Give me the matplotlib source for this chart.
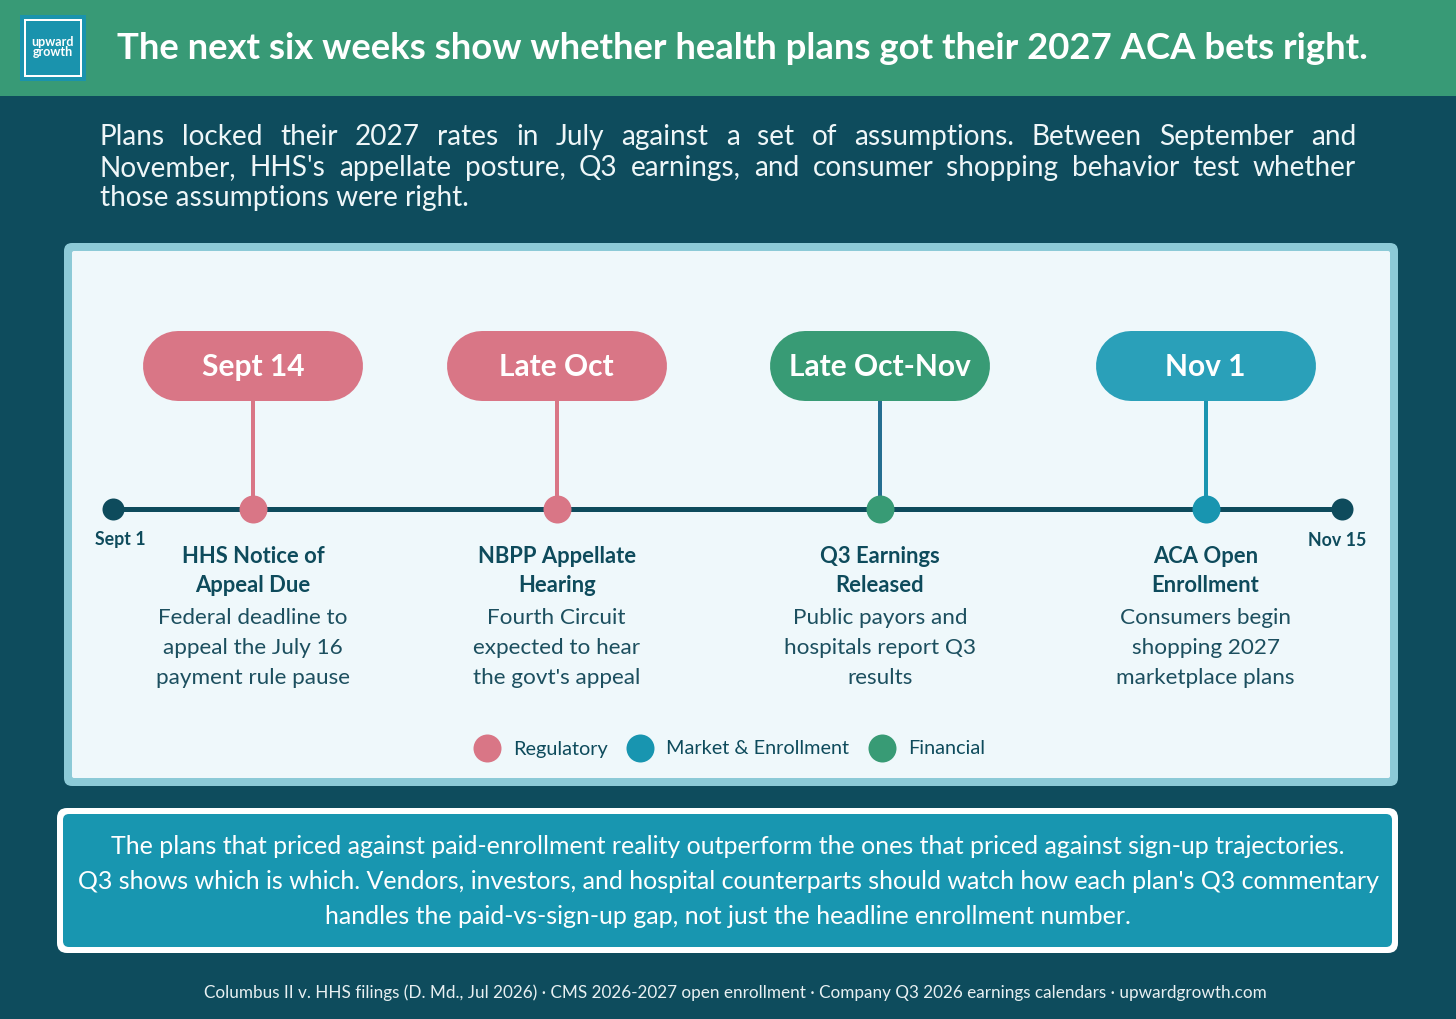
import matplotlib
matplotlib.use("Agg")
import matplotlib.pyplot as plt
from matplotlib.patches import FancyBboxPatch, Rectangle
from matplotlib.lines import Line2D

W, H = 1456, 1019
FONT = ["Lato", "DejaVu Sans"]

# ── Content ─────────────────────────────────────
title = "The next six weeks show whether health plans got their 2027 ACA bets right."
subtitle_lines = [
    "Plans locked their 2027 rates in July against a set of assumptions. Between September and",
    "November, HHS's appellate posture, Q3 earnings, and consumer shopping behavior test whether",
    "those assumptions were right.",
]
range_labels = ["Sept 1", "Nov 15"]
event_dates = ["Sept 14", "Late Oct", "Late Oct-Nov", "Nov 1"]
event_titles = ["HHS Notice of\nAppeal Due", "NBPP Appellate\nHearing",
                "Q3 Earnings\nReleased", "ACA Open\nEnrollment"]
event_desc = ["Federal deadline to\nappeal the July 16\npayment rule pause",
              "Fourth Circuit\nexpected to hear\nthe govt's appeal",
              "Public payors and\nhospitals report Q3\nresults",
              "Consumers begin\nshopping 2027\nmarketplace plans"]
event_cat = ["Regulatory", "Regulatory", "Financial", "Market & Enrollment"]
# position along the Sept 1 -> Nov 15 line (0..1)
event_pos = [0.114, 0.361, 0.624, 0.889]
legend_cats = ["Regulatory", "Market & Enrollment", "Financial"]
takeaway = [
    "The plans that priced against paid-enrollment reality outperform the ones that priced against sign-up trajectories.",
    "Q3 shows which is which. Vendors, investors, and hospital counterparts should watch how each plan's Q3 commentary",
    "handles the paid-vs-sign-up gap, not just the headline enrollment number.",
]
footer = ("Columbus II v. HHS filings (D. Md., Jul 2026) \u00b7 CMS 2026-2027 open enrollment \u00b7 "
          "Company Q3 2026 earnings calendars \u00b7 upwardgrowth.com")

# ── Palette ─────────────────────────────────────
BG = "#0e4c5d"
HEADER = "#389a76"
LOGO = "#1a93ad"
DARK = "#0e4b5c"
DESC = "#1c4f5f"
PANEL_EDGE = "#8ccad7"
PANEL = "#eff8fb"
BOX = "#1896b0"
CAT_COLORS = {"Regulatory": "#d97686", "Market & Enrollment": "#1895b0", "Financial": "#389b75"}
PILL_COLORS = {"Regulatory": "#d97686", "Market & Enrollment": "#2aa0b9", "Financial": "#389b75"}
STEM_COLORS = {"Regulatory": "#d97686", "Market & Enrollment": "#1a95b0", "Financial": "#256e91"}

PT = 72 / 100  # points per pixel at dpi 100

fig = plt.figure(figsize=(W / 100, H / 100), dpi=100)
fig.patch.set_facecolor(BG)
ax = fig.add_axes([0, 0, 1, 1])
ax.set_xlim(0, W)
ax.set_ylim(H, 0)
ax.axis("off")
r = fig.canvas.get_renderer()


def fit(t, width):
    w = t.get_window_extent(r).width
    t.set_fontsize(t.get_fontsize() * width / w)
    return t


def justify(words, x0, x1, y, **kw):
    ts = [ax.text(0, y, w, **kw) for w in words]
    widths = [t.get_window_extent(r).width for t in ts]
    gap = (x1 - x0 - sum(widths)) / max(len(words) - 1, 1)
    x = x0
    for t, w in zip(ts, widths):
        t.set_x(x)
        x += w + gap


# ── Header ──────────────────────────────────────
ax.add_patch(Rectangle((0, 0), W, 96, facecolor=HEADER, edgecolor="none"))
ax.add_patch(Rectangle((20, 15), 66, 66, facecolor=LOGO, edgecolor="none"))
ax.add_patch(Rectangle((25, 20), 56, 56, facecolor="none", edgecolor="white", lw=2 * PT))
ax.text(53, 47, "upward\ngrowth", color="white", fontsize=9, fontweight="bold",
        family=FONT, ha="center", va="center", linespacing=0.85)
t = ax.text(117, 48, title, color="white", fontsize=26, fontweight="bold",
            family=FONT, ha="left", va="center")
fit(t, 1251)

# ── Subtitle (justified) ────────────────────────
sub_kw = dict(color="#eef6f8", fontsize=20.2, family=FONT, va="center", ha="left")
for i, line in enumerate(subtitle_lines):
    y = 137 + i * 30.7
    if i < len(subtitle_lines) - 1:
        justify(line.split(" "), 100, 1356, y, **sub_kw)
    else:
        ax.text(100, y, line, **sub_kw)

# ── Timeline panel ──────────────────────────────
ax.add_patch(FancyBboxPatch((64, 243), 1334, 543, boxstyle="round,pad=0,rounding_size=8",
                            facecolor=PANEL_EDGE, edgecolor="none"))
ax.add_patch(FancyBboxPatch((72, 251), 1318, 527, boxstyle="round,pad=0,rounding_size=2",
                            facecolor=PANEL, edgecolor="none"))

tl = fig.add_axes([113 / W, 0, 1229 / W, 1])
tl.set_xlim(0, 1)
tl.set_ylim(H, 0)
tl.axis("off")
tl.patch.set_visible(False)

LINE_Y = 509
tl.plot([0, 1], [LINE_Y, LINE_Y], color=DARK, lw=5 * PT, solid_capstyle="butt", zorder=2)
tl.scatter([0, 1], [LINE_Y, LINE_Y], s=(22 * PT) ** 2, color=DARK, zorder=3,
           linewidths=0, clip_on=False)
for x, lab, dx in zip([0, 1], range_labels, [7, -5]):
    tl.annotate(lab, (x, 540), xytext=(dx * PT, 0), textcoords="offset points",
                ha="center", va="center", fontsize=12.8, fontweight="bold",
                color=DARK, family=FONT)

PILL_W, PILL_H, PILL_Y = 220, 70, 366
for pos, date, ttl, desc, cat in zip(event_pos, event_dates, event_titles, event_desc, event_cat):
    tl.plot([pos, pos], [PILL_Y + PILL_H / 2, LINE_Y], color=STEM_COLORS[cat],
            lw=4 * PT, zorder=2, solid_capstyle="butt")
    tl.scatter([pos], [LINE_Y], s=(28 * PT) ** 2, color=CAT_COLORS[cat], zorder=4,
               linewidths=0, clip_on=False)
    # pill = thick line with round caps, centred on the event
    cx = ax.transData.inverted().transform(tl.transData.transform((pos, 0)))[0]
    half = (PILL_W - PILL_H) / 2
    ax.plot([cx - half, cx + half], [PILL_Y, PILL_Y], color=PILL_COLORS[cat],
            lw=PILL_H * PT, solid_capstyle="round", zorder=3)
    ax.text(cx, PILL_Y + 1, date, color="white", fontsize=21.5, fontweight="bold",
            family=FONT, ha="center", va="center", zorder=4)
    tl.text(pos, 571, ttl, color=DARK, fontsize=15.8, fontweight="bold", family=FONT,
            ha="center", va="center", linespacing=1.5)
    tl.text(pos, 648, desc, color=DESC, fontsize=16.2, family=FONT,
            ha="center", va="center", linespacing=1.6)

# ── Legend ──────────────────────────────────────
handles = [Line2D([], [], marker="o", linestyle="none", markersize=28 * PT,
                  markerfacecolor=CAT_COLORS[c], markeredgewidth=0, label=c)
           for c in legend_cats]
leg = ax.legend(handles=handles, loc="center", bbox_to_anchor=(730 / W, 1 - 749 / H),
                ncol=3, frameon=False, handlelength=1.2,
                handletextpad=0.7, columnspacing=1.05, prop={"family": FONT, "size": 14.3})
for txt in leg.get_texts():
    txt.set_color(DARK)

# ── Takeaway box ────────────────────────────────
ax.add_patch(FancyBboxPatch((57, 808), 1341, 145, boxstyle="round,pad=0,rounding_size=10",
                            facecolor="white", edgecolor="none"))
ax.add_patch(FancyBboxPatch((63, 814), 1329, 133, boxstyle="round,pad=0,rounding_size=6",
                            facecolor=BOX, edgecolor="none"))
take_ts = [ax.text(728, 847 + i * 34.5, line, color="white", fontsize=17.5, family=FONT,
                   ha="center", va="center") for i, line in enumerate(takeaway)]
fs = min(t.get_fontsize() * wd / t.get_window_extent(r).width
         for t, wd in zip(take_ts, [1269, 1303]))
for t in take_ts:
    t.set_fontsize(fs)

# ── Footer ──────────────────────────────────────
tf = ax.text(735, 993, footer, color="#e8f0f2", fontsize=11.5, family=FONT,
             ha="center", va="center")
fit(tf, 1066)

fig.savefig("out.png", dpi=100, facecolor=BG)
